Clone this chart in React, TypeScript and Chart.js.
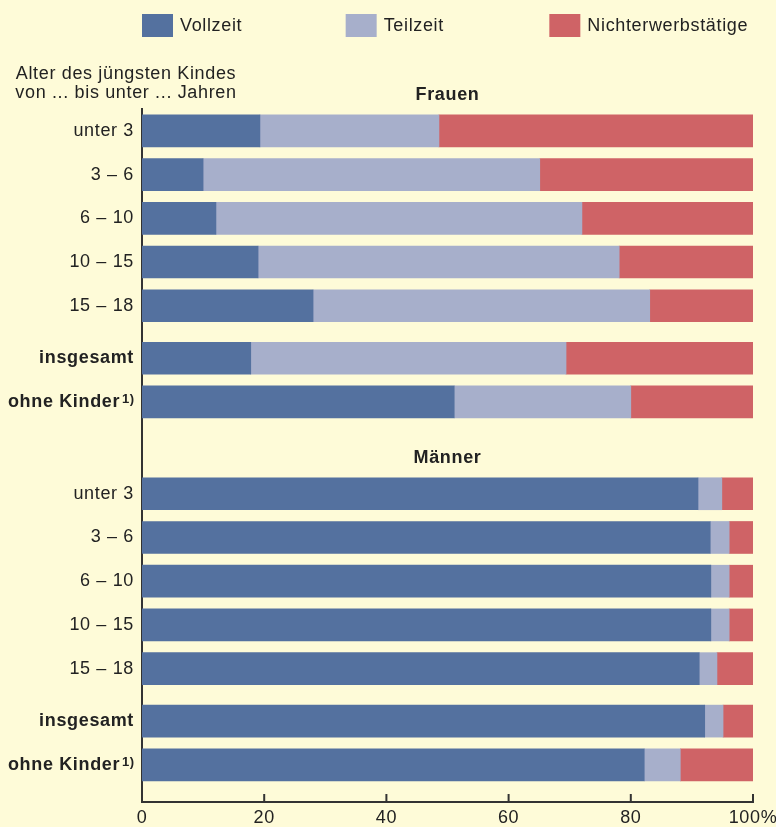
import React, { useEffect, useRef } from "react";
import { Chart, registerables } from "chart.js";

Chart.register(...registerables);

// ---- data ----
const categories = ["unter 3", "3 – 6", "6 – 10", "10 – 15", "15 – 18", "insgesamt", "ohne Kinder¹⁾"];
const boldCategories = ["insgesamt", "ohne Kinder¹⁾"];
const groups = ["Frauen", "Männer"];
const seriesNames = ["Vollzeit", "Teilzeit", "Nichterwerbstätige"];

const frauenVollzeit = [19.3, 10.0, 12.1, 19.0, 28.0, 17.8, 51.1];
const frauenTeilzeit = [29.3, 55.1, 59.9, 59.1, 55.1, 51.6, 28.9];
const frauenNicht = [51.4, 34.9, 28.0, 21.9, 16.9, 30.6, 20.0];

const maennerVollzeit = [91.0, 93.0, 93.1, 93.1, 91.2, 92.1, 82.2];
const maennerTeilzeit = [3.9, 3.1, 3.0, 3.0, 2.9, 3.0, 5.9];
const maennerNicht = [5.1, 3.9, 3.9, 3.9, 5.9, 4.9, 11.9];

const xTicks = [0, 20, 40, 60, 80, 100];
const axisCaption = ["Alter des jüngsten Kindes", "von ... bis unter ... Jahren"];
const FOOTNOTE = "¹⁾";
const FOOTNOTE_TEXT = "1)";

// ---- styles / layout ----
const COLORS = ["#54719f", "#a7afcb", "#cf6366"];
const BG = "#fefbd8";
const TEXT = "#222222";
const AXIS = "#333333";
const FONT = "'Liberation Sans', Arial, Helvetica, sans-serif";
const SPACING = "0.65px";
const TICK_PAD = 8;

const SUMMARY_GAP = 1.2;
const GROUP_GAP = 2.1;
const HEADER_OFFSET = 0.82;

function rowPositions(start: number): number[] {
  return categories.map((_, i) => start + (i < 5 ? i : 4 + SUMMARY_GAP + (i - 5)));
}

const frauenPos = rowPositions(0);
const maennerPos = rowPositions(frauenPos[frauenPos.length - 1] + GROUP_GAP);
const allPos = [...frauenPos, ...maennerPos];
const allLabels = [...categories, ...categories];
const headerPos = [frauenPos[0] - HEADER_OFFSET, maennerPos[0] - HEADER_OFFSET];

const seriesFrauen = [frauenVollzeit, frauenTeilzeit, frauenNicht];
const seriesMaenner = [maennerVollzeit, maennerTeilzeit, maennerNicht];

function tickText(label: string): string {
  return label.endsWith(FOOTNOTE) ? label.slice(0, -FOOTNOTE.length) + "\u2002\u2009" : label;
}

const spacingPlugin = {
  id: "spacing",
  beforeLayout(chart: any) {
    chart.ctx.letterSpacing = SPACING;
  },
  beforeDraw(chart: any) {
    chart.ctx.letterSpacing = SPACING;
  },
};

const decorPlugin = {
  id: "decor",
  afterDraw(chart: any) {
    const { ctx, chartArea, scales } = chart;
    const { left, right, top, bottom, width } = chartArea;
    ctx.save();
    ctx.letterSpacing = SPACING;
    // legend
    ctx.textBaseline = "middle";
    ctx.textAlign = "left";
    ctx.font = `18px ${FONT}`;
    chart.data.datasets.forEach((ds: any, i: number) => {
      const x = left + (i * width) / 3;
      ctx.fillStyle = ds.backgroundColor;
      ctx.fillRect(x, 14, 31, 23);
      ctx.fillStyle = TEXT;
      ctx.fillText(ds.label, x + 38, 26);
    });
    // axis caption
    ctx.textAlign = "center";
    ctx.font = `18px ${FONT}`;
    ctx.fillStyle = TEXT;
    ctx.fillText(axisCaption[0], 126, top - 35);
    ctx.fillText(axisCaption[1], 126, top - 16);
    // group headers
    ctx.font = `bold 18px ${FONT}`;
    groups.forEach((g, i) => {
      ctx.fillText(g, (left + right) / 2, scales.y.getPixelForValue(headerPos[i]));
    });
    // footnote markers on tick labels
    ctx.letterSpacing = "0.5px";
    ctx.textAlign = "right";
    ctx.textBaseline = "top";
    ctx.font = `bold 13px ${FONT}`;
    allLabels.forEach((label, i) => {
      if (!label.endsWith(FOOTNOTE)) return;
      const y = scales.y.getPixelForValue(allPos[i]);
      ctx.fillText(FOOTNOTE_TEXT, left - TICK_PAD + 0.5, y - 9);
    });
    // inward x tick marks
    ctx.strokeStyle = AXIS;
    ctx.lineWidth = 2;
    xTicks.forEach((v) => {
      if (v === 0) return;
      const x = scales.x.getPixelForValue(v);
      ctx.beginPath();
      ctx.moveTo(x, bottom);
      ctx.lineTo(x, bottom - 8);
      ctx.stroke();
    });
    ctx.restore();
  },
};

export default function App() {
  const canvasRef = useRef<HTMLCanvasElement | null>(null);

  useEffect(() => {
    document.body.style.margin = "0";
    document.body.style.background = BG;
    const canvas = canvasRef.current;
    if (!canvas) return;

    const datasets = seriesNames.map((name, s) => ({
      label: name,
      backgroundColor: COLORS[s],
      borderWidth: 0,
      barThickness: 32,
      data: [
        ...frauenPos.map((y, i) => ({ x: seriesFrauen[s][i], y })),
        ...maennerPos.map((y, i) => ({ x: seriesMaenner[s][i], y })),
      ],
    }));

    const chart = new Chart(canvas, {
      type: "bar",
      data: { datasets },
      plugins: [spacingPlugin, decorPlugin],
      options: {
        animation: false,
        responsive: false,
        indexAxis: "y",
        layout: { padding: { top: 109, right: 23, left: 0, bottom: 0 } },
        plugins: { legend: { display: false }, tooltip: { enabled: false } },
        scales: {
          x: {
            type: "linear",
            stacked: true,
            offset: false,
            min: 0,
            max: 100,
            afterBuildTicks: (scale: any) => {
              scale.ticks = xTicks.map((v) => ({ value: v }));
            },
            afterFit: (scale: any) => {
              scale.height = 25;
              scale.paddingLeft = 0;
              scale.paddingRight = 0;
            },
            grid: { display: false, drawTicks: false, offset: false },
            border: { display: true, color: AXIS, width: 2 },
            ticks: {
              color: TEXT,
              padding: 5,
              maxRotation: 0,
              font: { family: FONT, size: 18 },
              callback: (v: any) => (Number(v) === 100 ? "100%" : String(v)),
            },
          },
          y: {
            type: "linear",
            stacked: true,
            reverse: true,
            offset: false,
            min: -0.5,
            max: 15.35,
            afterBuildTicks: (scale: any) => {
              scale.ticks = allPos.map((v) => ({ value: v }));
            },
            afterFit: (scale: any) => {
              scale.width = 142;
              scale.paddingTop = 0;
              scale.paddingBottom = 0;
            },
            grid: { display: false, drawTicks: false, offset: false },
            border: { display: true, color: AXIS, width: 2 },
            ticks: {
              color: TEXT,
              padding: TICK_PAD,
              autoSkip: false,
              callback: (_v: any, i: number) => tickText(allLabels[i]),
              font: (ctx: any) => ({
                family: FONT,
                size: 18,
                weight: boldCategories.includes(allLabels[ctx.index]) ? "bold" : "normal",
              }),
            },
          },
        },
      } as any,
    });

    return () => chart.destroy();
  }, []);

  return (
    <div style={{ width: 776, height: 827, background: BG }}>
      <canvas ref={canvasRef} width={776} height={827} style={{ display: "block" }} />
    </div>
  );
}
